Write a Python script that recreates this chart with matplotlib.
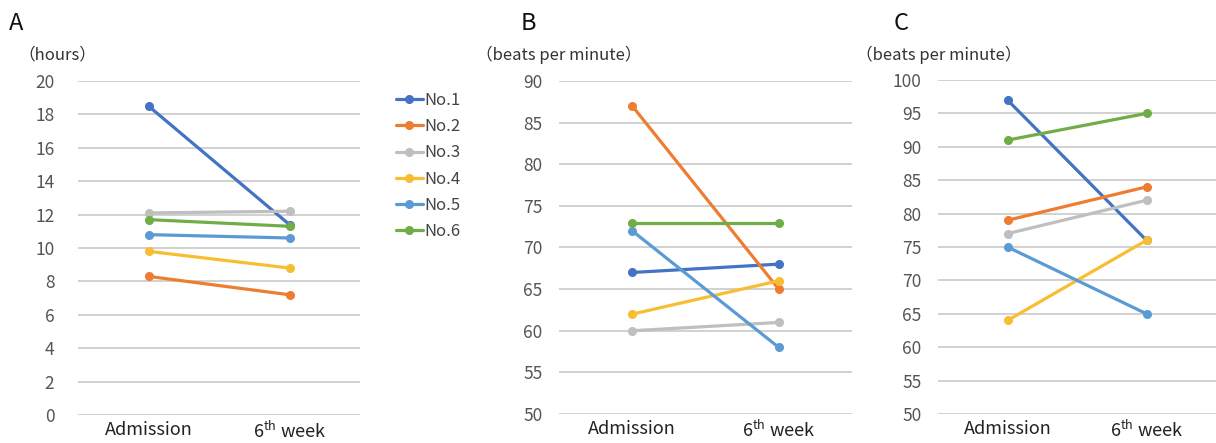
import numpy as np
import matplotlib
matplotlib.use("Agg")
import matplotlib.pyplot as plt

plt.rcParams['font.family'] = ['Noto Sans CJK JP', 'DejaVu Sans']
plt.rcParams['mathtext.fontset'] = 'custom'
plt.rcParams['mathtext.rm'] = 'Noto Sans CJK JP'

time_points = ["Admission", "6$^{\\mathrm{th}}$ week"]
patients = ["No.1", "No.2", "No.3", "No.4", "No.5", "No.6"]
colors = ["#4472C4", "#ED7D31", "#BFBFBF", "#F8BE32", "#5B9BD5", "#70AD47"]

# panel A: hours
sleep_hours = [
    [18.5, 11.4],
    [8.3, 7.2],
    [12.1, 12.2],
    [9.8, 8.8],
    [10.8, 10.6],
    [11.7, 11.3],
]
# panel B: beats per minute
heart_rate_b = [
    [67, 68],
    [87, 65],
    [60, 61],
    [62, 66],
    [72, 58],
    [73, 73],
]
# panel C: beats per minute
heart_rate_c = [
    [97, 76],
    [79, 84],
    [77, 82],
    [64, 76],
    [75, 65],
    [91, 95],
]

W, H = 1216, 443
fig = plt.figure(figsize=(W / 100, H / 100), dpi=100)


def px_axes(x0, x1, ytop, ybot):
    return fig.add_axes([x0 / W, 1 - ybot / H, (x1 - x0) / W, (ybot - ytop) / H])


panels = [
    dict(data=sleep_hours, box=(78, 360, 81, 415), ylim=(0, 20), step=2,
         unit="（hours）", unit_x=18, letter="A", letter_x=9, pad=17),
    dict(data=heart_rate_b, box=(559, 852, 81, 414), ylim=(50, 90), step=5,
         unit="（beats per minute）", unit_x=476, letter="B", letter_x=521, pad=12),
    dict(data=heart_rate_c, box=(938, 1216, 80, 414), ylim=(50, 100), step=5,
         unit="（beats per minute）", unit_x=856, letter="C", letter_x=894, pad=12),
]

for i, p in enumerate(panels):
    ax = px_axes(*p['box'])
    x = np.arange(len(time_points))
    for name, vals, c in zip(patients, p['data'], colors):
        ax.plot(x, vals, color=c, lw=2.3, marker='o', ms=5.5, label=name,
                solid_capstyle='round', zorder=3)
    ax.set_xlim(-0.5, 1.5)
    ax.set_ylim(*p['ylim'])
    ax.set_yticks(np.arange(p['ylim'][0], p['ylim'][1] + 0.1, p['step']))
    ax.set_xticks(x)
    ax.set_xticklabels(time_points)
    ax.grid(axis='y', color='#CACACA', lw=1.2, zorder=0)
    ax.set_axisbelow(True)
    for s in ax.spines.values():
        s.set_visible(False)
    ax.tick_params(axis='both', length=0, labelsize=12.5, colors='#555555')
    ax.tick_params(axis='y', pad=p['pad'])
    ax.tick_params(axis='x', pad=4, labelsize=13, labelcolor='#222222')
    fig.text(p['unit_x'] / W, 1 - 55 / H, p['unit'], fontsize=12,
             color='#333333', va='center', ha='left')
    fig.text(p['letter_x'] / W, 1 - 23 / H, p['letter'], fontsize=17,
             color='#111111', va='center', ha='left')
    if i == 0:
        handles, labels = ax.get_legend_handles_labels()

fig.legend(handles, labels, loc='upper left', bbox_to_anchor=(381 / W, 1 - 77 / H),
           frameon=False, fontsize=12, handlelength=1.6, handletextpad=0.1,
           labelspacing=0.55, labelcolor='#444444')

fig.savefig("out.png", dpi=100)
